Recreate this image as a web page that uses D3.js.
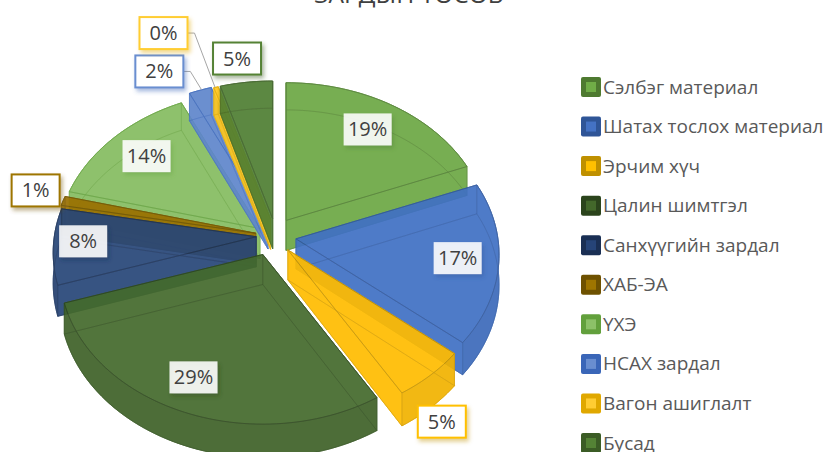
<!DOCTYPE html>
<html><head><meta charset="utf-8">
<script src="https://cdn.jsdelivr.net/npm/d3@7"></script>
<style>html,body{margin:0;padding:0;background:#fff;overflow:hidden}svg{display:block}</style>
</head><body><svg id="c" width="826" height="452"></svg>
<script>
const titleText = "ЗАРДЫН ТӨСӨВ";
const categories = ["Сэлбэг материал","Шатах тослох материал","Эрчим хүч","Цалин шимтгэл","Санхүүгийн зардал","ХАБ-ЭА","ҮХЭ","НСАХ зардал","Вагон ашиглалт","Бусад"];
const values = [19,17,5.4,28.6,8,1,14,2,0.4,4.6];
const valueLabels = ["19%","17%","5%","29%","8%","1%","14%","2%","0%","5%"];
const faceColors = ["#6CA844","#4070C4","#FFBC00","#446A2C","#274678","#9A7000","#85BC60","#5F86CC","#FFC81E","#4F7E32"];
const swatchFill = ["#70AD47","#4472C4","#FFC000","#43682B","#264478","#9E7500","#8CC168","#698ED0","#FFCD33","#548235"];
const edgeColors = ["#4E7A30","#2F5597","#BF9000","#2B441C","#1A2F54","#6E5100","#62A03C","#3A66B8","#E0A800","#3B5C25"];
const explode = [0.124,0.12,0.12,0.13,0.078,0.082,0.077,0.12,0.115,0.115];
const nudgeX = [0,0,0,0,0,0,0,5,5.5,4];
const labelAngle = [34,99,146,203,268,284.5,310.3,331,336.6,350.5];
const labelRadius = [0.77,0.8,1.22,0.81,0.855,1.16,0.775,1.235,1.53,1.2];
const labelBorder = [false,false,true,false,false,true,false,true,true,true];
const drawOrder = [6,7,8,9,0,5,4,1,2,3];

const svg = d3.select("#c");
const cx = 272, cy = 236, kx = 202, ky = 152, persp = 0.104, depth = 30;
const rad = d3.scaleLinear().domain([0,360]).range([0,2*Math.PI]);

function project(ex,ey,X,Y,down,i){
  const s = 1/(1+persp*Y);
  return [cx + (ex+X*s)*kx + nudgeX[i], cy - (ey+Y*s)*ky + (down?depth*s:0)];
}
const pie = d3.pie().sort(null).value(d=>d)(values);

const defs = svg.append("defs");
swatchFill.forEach((c,i)=>{
  const f = defs.append("filter").attr("id","sh"+i).attr("x","-30%").attr("y","-30%").attr("width","170%").attr("height","170%");
  f.append("feDropShadow").attr("dx",2).attr("dy",3).attr("stdDeviation",2.2).attr("flood-color",edgeColors[i]).attr("flood-opacity",0.45);
});

const line = d3.line();
const chart = svg.append("g");
function offset(d,i){
  const mid = (d.startAngle+d.endAngle)/2;
  return [explode[i]*Math.sin(mid), explode[i]*Math.cos(mid)];
}
function slicePoints(d,i,down){
  const [ex,ey] = offset(d,i);
  const n = Math.max(2,Math.ceil((d.endAngle-d.startAngle)/0.03));
  const angles = d3.range(n+1).map(j=>d.startAngle+(d.endAngle-d.startAngle)*j/n);
  return {apex:project(ex,ey,0,0,down,i),angles,arc:angles.map(a=>project(ex,ey,Math.sin(a),Math.cos(a),down,i))};
}
drawOrder.forEach(i=>{
  const d = pie[i];
  const g = chart.append("g").attr("opacity",0.92);
  const top = slicePoints(d,i,false), bot = slicePoints(d,i,true);
  const faces = [
    [bot.apex,...bot.arc],
    [top.apex,bot.apex,bot.arc[0],top.arc[0]],
    [top.apex,bot.apex,bot.arc[bot.arc.length-1],top.arc[top.arc.length-1]],
    [...top.arc,...bot.arc.slice().reverse()],
    [top.apex,...top.arc]
  ];
  g.selectAll("path.fill").data(faces).join("path").attr("class","fill")
    .attr("d",p=>line(p)+"Z").attr("fill",faceColors[i]).attr("stroke",faceColors[i]).attr("stroke-width",0.5);
  const frontIdx = d3.range(top.arc.length).filter(j=>Math.cos(top.angles[j])<0.02);
  if(frontIdx.length>1){
    const t = frontIdx.map(j=>top.arc[j]), b = frontIdx.map(j=>bot.arc[j]).reverse();
    g.append("path").attr("d",line([...t,...b])+"Z").attr("fill",edgeColors[i]).attr("fill-opacity",0.22);
  }
  g.selectAll("path.edge").data(faces).join("path").attr("class","edge")
    .attr("d",p=>line(p)+"Z").attr("fill","none").attr("stroke",edgeColors[i])
    .attr("stroke-opacity",(p,j)=>j===4?0.85:0.3).attr("stroke-width",1).attr("stroke-linejoin","round");
});

const boxW = 48, boxH = 32;
const labelPos = pie.map((d,i)=>{
  const [ex,ey] = offset(d,i);
  const a = rad(labelAngle[i]);
  return project(ex,ey,labelRadius[i]*Math.sin(a),labelRadius[i]*Math.cos(a),false,i);
});
[7,8].forEach(i=>{
  const s = slicePoints(pie[i],i,false);
  const end = s.arc[Math.floor(s.arc.length/2)];
  const p = labelPos[i];
  svg.append("path")
    .attr("d",line([[p[0]+boxW/2,p[1]],[p[0]+boxW/2+7,p[1]],[end[0]-1,end[1]]]))
    .attr("fill","none").attr("stroke","#a6a6a6").attr("stroke-width",1);
});
const lab = svg.selectAll("g.lab").data(pie).join("g").attr("class","lab")
  .attr("transform",(d,i)=>`translate(${labelPos[i][0]},${labelPos[i][1]})`);
lab.append("rect").attr("x",-boxW/2).attr("y",-boxH/2).attr("width",boxW).attr("height",boxH)
  .attr("fill","#fff").attr("fill-opacity",(d,i)=>labelBorder[i]?1:0.88)
  .attr("stroke",(d,i)=>labelBorder[i]?swatchFill[i]:"none")
  .attr("stroke-width",2)
  .attr("filter",(d,i)=>`url(#sh${i})`);
lab.append("text").attr("text-anchor","middle").attr("y",7)
  .attr("font-family","'Open Sans',sans-serif").attr("font-size",20).attr("fill","#404040")
  .text((d,i)=>valueLabels[i]);

svg.append("text").attr("x",409).attr("y",3).attr("text-anchor","middle")
  .attr("font-family","'Open Sans',sans-serif").attr("font-size",24.5).attr("fill","#404040").text(titleText);

const legendY = d3.scalePoint().domain(categories).range([87,443]);
const leg = svg.selectAll("g.leg").data(categories).join("g").attr("class","leg")
  .attr("transform",d=>`translate(581,${legendY(d)})`);
leg.append("rect").attr("x",0).attr("y",-10).attr("width",20).attr("height",20).attr("rx",2)
  .attr("fill",(d,i)=>edgeColors[i]);
leg.append("rect").attr("x",5).attr("y",-5).attr("width",10).attr("height",10)
  .attr("fill",(d,i)=>swatchFill[i]);
leg.append("text").attr("x",22).attr("y",6.5)
  .attr("font-family","'Open Sans',sans-serif").attr("font-size",19).attr("fill","#595959").text(d=>d);
</script></body></html>
